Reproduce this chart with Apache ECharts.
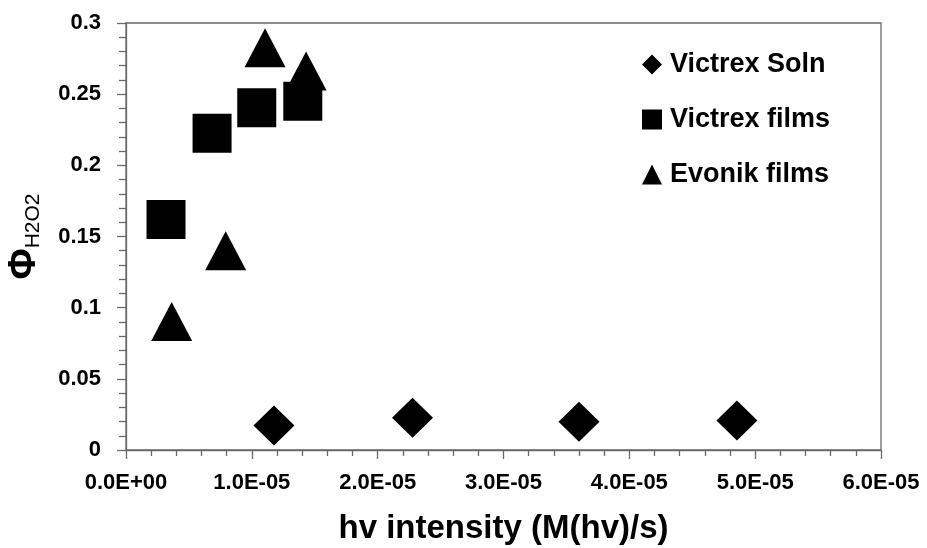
<!DOCTYPE html>
<html>
<head>
<meta charset="utf-8">
<script src="https://cdn.jsdelivr.net/npm/echarts@6/dist/echarts.min.js"></script>
<style>
  html, body { margin: 0; padding: 0; background: #fff; }
  #chart { width: 927px; height: 548px; }
</style>
</head>
<body>
<div id="chart"></div>
<script>
// Quantum yield of H2O2 versus photon intensity
const seriesNames = ['Victrex Soln', 'Victrex films', 'Evonik films'];

const victrexSolnX = [1.176e-5, 2.277e-5, 3.60e-5, 4.855e-5];
const victrexSolnY = [0.0172, 0.0227, 0.0198, 0.0208];

const victrexFilmsX = [3.18e-6, 6.84e-6, 1.039e-5, 1.405e-5];
const victrexFilmsY = [0.162, 0.2226, 0.2404, 0.245];

const evonikFilmsX = [3.63e-6, 7.92e-6, 1.105e-5, 1.431e-5];
const evonikFilmsY = [0.0903, 0.140, 0.2826, 0.2662];

const xAxisTitle = 'hv intensity (M(hv)/s)';

const pairs = (xs, ys) => xs.map((x, i) => [x, ys[i]]);

// Excel-style scientific labels: 1.0E-05
function sciLabel(v) {
  const s = Number(v).toExponential(1);
  const m = s.match(/^(-?[\d.]+)e([+-])(\d+)$/);
  if (!m) return s;
  const exp = m[3].length < 2 ? '0' + m[3] : m[3];
  return m[1] + 'E' + m[2] + exp;
}

const axisGray = '#6a6a6a';
const fontFam = '"Liberation Sans", Arial, sans-serif';
const markerStyle = { color: '#000', opacity: 1 };

const chart = echarts.init(document.getElementById('chart'), null, { renderer: 'canvas' });

chart.setOption({
  animation: false,
  backgroundColor: '#ffffff',
  grid: {
    left: 126, right: 46, top: 23, bottom: 98,
    containLabel: false,
    outerBoundsMode: 'none',
    show: true, borderColor: axisGray, borderWidth: 1.3,
    backgroundColor: 'transparent'
  },
  legend: {
    orient: 'vertical',
    left: 642,
    top: 51,
    padding: 0,
    itemWidth: 20,
    itemHeight: 20,
    itemGap: 28,
    data: seriesNames,
    textStyle: {
      fontFamily: fontFam, fontWeight: 'bold', fontSize: 27, color: '#000',
      padding: [0, 0, 0, 3]
    }
  },
  xAxis: {
    type: 'value',
    min: 0, max: 6e-5, interval: 1e-5,
    name: xAxisTitle,
    nameLocation: 'middle',
    nameGap: 62,
    nameTextStyle: { fontFamily: fontFam, fontWeight: 'bold', fontSize: 33, color: '#000' },
    axisLine: { show: true, onZero: false, lineStyle: { color: axisGray, width: 1.3 } },
    axisTick: { show: true, inside: false, length: 9, lineStyle: { color: axisGray, width: 1.3 } },
    minorTick: { show: true, splitNumber: 5, length: 6, lineStyle: { color: axisGray, width: 1.3 } },
    splitLine: { show: false },
    axisLabel: {
      margin: 22,
      fontFamily: fontFam, fontWeight: 'bold', fontSize: 22, color: '#000',
      formatter: sciLabel
    }
  },
  yAxis: {
    type: 'value',
    min: 0, max: 0.3, interval: 0.05,
    name: '{phi|Φ}{sub|H2O2}',
    nameLocation: 'middle',
    nameRotate: 90,
    nameGap: 82,
    nameTextStyle: {
      rich: {
        phi: { fontFamily: fontFam, fontWeight: 'bold', fontSize: 38, color: '#000', verticalAlign: 'bottom' },
        sub: { fontFamily: fontFam, fontSize: 21, color: '#000', verticalAlign: 'bottom' }
      }
    },
    axisLine: { show: true, onZero: false, lineStyle: { color: axisGray, width: 1.3 } },
    axisTick: { show: true, inside: false, length: 9, lineStyle: { color: axisGray, width: 1.3 } },
    minorTick: { show: true, splitNumber: 5, length: 7, lineStyle: { color: axisGray, width: 1.3 } },
    splitLine: { show: false },
    axisLabel: {
      margin: 25,
      fontFamily: fontFam, fontWeight: 'bold', fontSize: 22, color: '#000'
    }
  },
  series: [
    {
      name: seriesNames[0], type: 'scatter', symbol: 'diamond', symbolSize: [41, 40],
      itemStyle: markerStyle,
      data: pairs(victrexSolnX, victrexSolnY)
    },
    {
      name: seriesNames[1], type: 'scatter', symbol: 'rect', symbolSize: [39, 39],
      itemStyle: markerStyle,
      data: pairs(victrexFilmsX, victrexFilmsY)
    },
    {
      name: seriesNames[2], type: 'scatter', symbol: 'triangle', symbolSize: [41, 39],
      itemStyle: markerStyle,
      data: pairs(evonikFilmsX, evonikFilmsY)
    }
  ]
});
</script>
</body>
</html>
